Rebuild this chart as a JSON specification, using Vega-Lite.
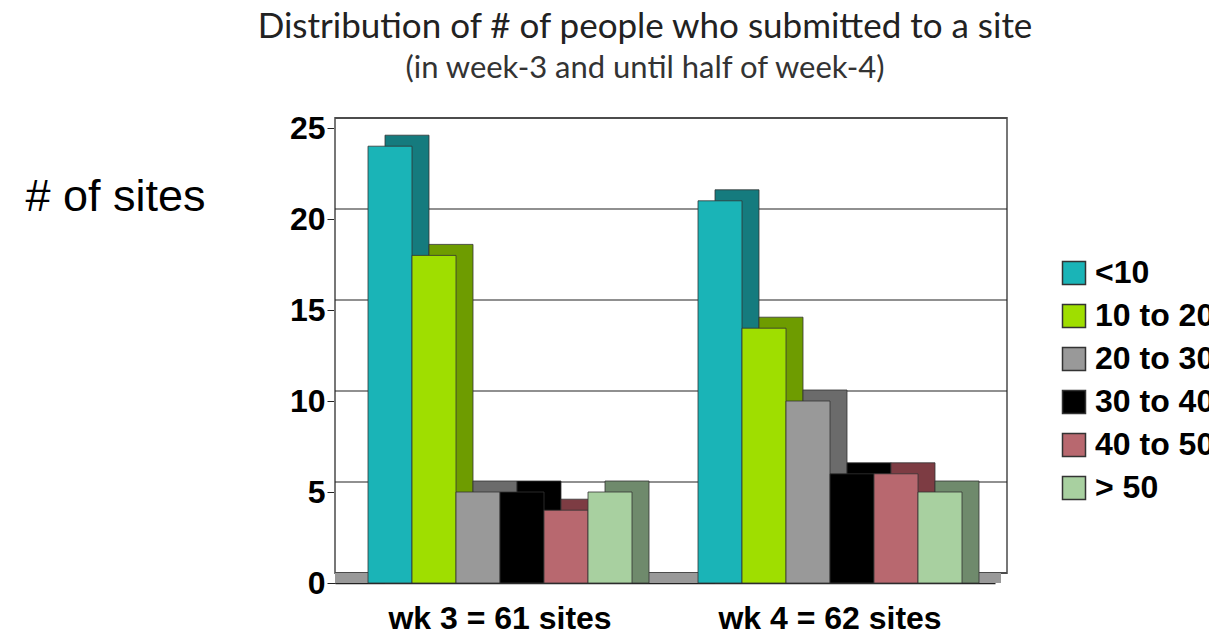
{
  "$schema": "https://vega.github.io/schema/vega-lite/v6.json",
  "width": 660,
  "height": 455,
  "autosize": {"type": "none"},
  "padding": {"left": 335, "top": 128, "right": 214, "bottom": 53},
  "background": "#ffffff",
  "config": {"view": {"stroke": null}},
  "title": {
    "text": "Distribution of # of people who submitted to a site",
    "subtitle": "(in week-3 and until half of week-4)",
    "anchor": "middle",
    "frame": "group",
    "dx": -20,
    "offset": 28,
    "font": "Lato",
    "fontSize": 35,
    "fontWeight": "normal",
    "color": "#222222",
    "subtitleFont": "Lato",
    "subtitleFontSize": 31,
    "subtitleColor": "#333333",
    "subtitlePadding": 9
  },
  "datasets": {
    "bars": [
      {"week": "wk 3 = 61 sites", "range": "<10", "sites": 24},
      {"week": "wk 3 = 61 sites", "range": "10 to 20", "sites": 18},
      {"week": "wk 3 = 61 sites", "range": "20 to 30", "sites": 5},
      {"week": "wk 3 = 61 sites", "range": "30 to 40", "sites": 5},
      {"week": "wk 3 = 61 sites", "range": "40 to 50", "sites": 4},
      {"week": "wk 3 = 61 sites", "range": "> 50", "sites": 5},
      {"week": "wk 4 = 62 sites", "range": "<10", "sites": 21},
      {"week": "wk 4 = 62 sites", "range": "10 to 20", "sites": 14},
      {"week": "wk 4 = 62 sites", "range": "20 to 30", "sites": 10},
      {"week": "wk 4 = 62 sites", "range": "30 to 40", "sites": 6},
      {"week": "wk 4 = 62 sites", "range": "40 to 50", "sites": 6},
      {"week": "wk 4 = 62 sites", "range": "> 50", "sites": 5}
    ],
    "grid": [{"v": 0}, {"v": 5}, {"v": 10}, {"v": 15}, {"v": 20}, {"v": 25}],
    "wall": [{"lo": 0, "hi": 25}]
  },
  "layer": [
    {
      "data": {"name": "wall"},
      "mark": {"type": "rect", "fill": "#ffffff", "stroke": "#777777", "strokeWidth": 2, "xOffset": 12, "x2Offset": 12, "yOffset": -10, "y2Offset": -10},
      "encoding": {
        "y": {"field": "lo", "type": "quantitative", "scale": {"domain": [0, 25], "nice": false, "zero": true}},
        "y2": {"field": "hi"}
      }
    },
    {
      "data": {"name": "grid"},
      "mark": {"type": "rule", "color": "#222222", "strokeWidth": 1.2, "xOffset": 12, "x2Offset": 12, "yOffset": -10, "y2Offset": -10},
      "encoding": {
        "y": {"field": "v", "type": "quantitative"}
      }
    },
    {
      "data": {"name": "wall"},
      "mark": {"type": "rule", "color": "#999999", "strokeWidth": 10, "xOffset": 6, "x2Offset": 6, "yOffset": -5, "y2Offset": -5},
      "encoding": {
        "y": {"field": "lo", "type": "quantitative"}
      }
    },
    {
      "data": {"name": "bars"},
      "mark": {"type": "bar", "stroke": "#333333", "strokeWidth": 0.8, "yOffset": -11, "y2Offset": -11},
      "encoding": {
        "x": {"field": "week", "type": "nominal", "scale": {"paddingInner": 0.2, "paddingOuter": 0.1}},
        "xOffset": {"field": "range", "type": "nominal", "sort": ["<10", "10 to 20", "20 to 30", "30 to 40", "40 to 50", "> 50"], "scale": {"range": [17, 281], "paddingInner": 0, "paddingOuter": 0}},
        "y": {"field": "sites", "type": "quantitative", "stack": null},
        "fill": {
          "field": "range", "type": "nominal", "legend": null,
          "scale": {
            "domain": ["<10", "10 to 20", "20 to 30", "30 to 40", "40 to 50", "> 50"],
            "range": ["#157b7e", "#6e9c00", "#6b6b6b", "#000000", "#7d3c43", "#6f8a6c"]
          }
        }
      }
    },
    {
      "data": {"name": "bars"},
      "mark": {"type": "bar", "stroke": "#333333", "strokeWidth": 0.8},
      "encoding": {
        "x": {
          "field": "week", "type": "nominal",
          "axis": {
            "title": null, "labelAngle": 0, "labelAlign": "center", "labelFont": "Liberation Sans", "labelFontSize": 32, "labelFontWeight": "bold",
            "labelColor": "#000000", "labelPadding": 35, "labelLimit": 400, "ticks": false, "domainColor": "#222222", "domainWidth": 1.5
          }
        },
        "xOffset": {"field": "range", "type": "nominal", "sort": ["<10", "10 to 20", "20 to 30", "30 to 40", "40 to 50", "> 50"], "scale": {"range": [0, 264], "paddingInner": 0, "paddingOuter": 0}},
        "y": {
          "field": "sites", "type": "quantitative", "stack": null,
          "axis": {
            "title": "# of sites", "titleAngle": 0, "titleAlign": "left", "titleBaseline": "alphabetic",
            "titleX": -310, "titleY": 82, "titleFont": "Liberation Sans", "titleFontSize": 45, "titleFontWeight": "normal",
            "titleColor": "#000000",
            "values": [0, 5, 10, 15, 20, 25], "grid": false,
            "labelFont": "Liberation Sans", "labelFontSize": 32, "labelFontWeight": "bold", "labelColor": "#000000",
            "tickSize": 8, "labelPadding": 2, "tickColor": "#222222", "domainColor": "#222222"
          }
        },
        "fill": {
          "field": "range", "type": "nominal",
          "scale": {
            "domain": ["<10", "10 to 20", "20 to 30", "30 to 40", "40 to 50", "> 50"],
            "range": ["#1ab4b7", "#9fde00", "#999999", "#000000", "#b8686f", "#a8d0a0"]
          },
          "legend": {
            "title": null, "orient": "none", "legendX": 723, "legendY": 129,
            "symbolType": "square", "symbolSize": 529, "symbolStrokeColor": "#333333", "symbolStrokeWidth": 1.5,
            "labelFont": "Liberation Sans", "labelFontSize": 32, "labelFontWeight": "bold", "labelColor": "#000000",
            "labelOffset": 5, "rowPadding": 11, "labelLimit": 400
          }
        }
      }
    }
  ],
  "resolve": {"scale": {"fill": "independent", "xOffset": "independent"}}
}
